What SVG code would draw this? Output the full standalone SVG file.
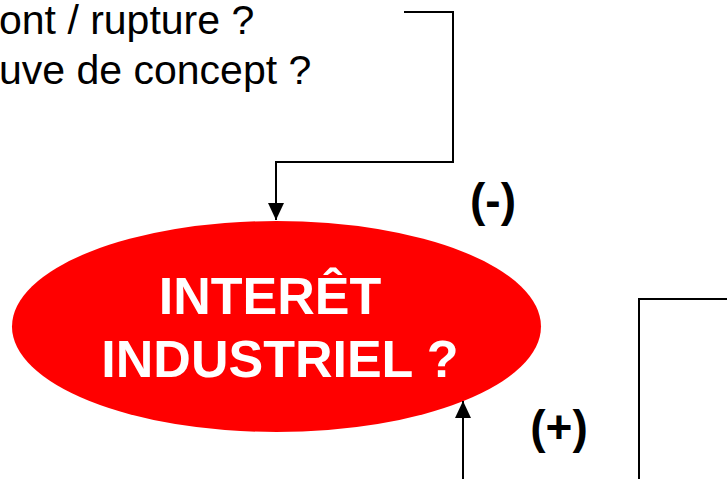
<svg xmlns="http://www.w3.org/2000/svg" width="727" height="479" viewBox="0 0 727 479">
  <style>
    .plain { font-family: "Liberation Sans", Arial, sans-serif; fill: #000; font-size: 41px; }
    .sign { font-family: "Liberation Sans", Arial, sans-serif; font-weight: bold; fill: #000; font-size: 46px; text-anchor: middle; }
    .title { font-family: "Liberation Sans", Arial, sans-serif; font-weight: bold; fill: #fff; font-size: 52px; text-anchor: middle; }
    .wire { fill: none; stroke: #000; stroke-width: 2; }
  </style>
  <defs>
    <marker id="arrow" markerUnits="userSpaceOnUse" markerWidth="17" markerHeight="16" refX="17" refY="8" orient="auto">
      <path d="M0,0 L17,8 L0,16 Z" fill="#000"/>
    </marker>
  </defs>

  <!-- questions box (text only, partly outside the frame) -->
  <g id="questions">
    <text class="plain" x="-1" y="34">ont / rupture ?</text>
    <text class="plain" x="-1" y="84">uve de concept ?</text>
  </g>

  <!-- box on the right, partly outside the frame -->
  <g id="right-box">
    <rect x="639" y="299" width="200" height="300" fill="none" stroke="#000" stroke-width="2"/>
  </g>

  <!-- central decision ellipse -->
  <g id="interet-industriel">
    <ellipse cx="276.5" cy="326.5" rx="264.5" ry="105.5" fill="#ff0000"/>
    <text class="title" x="270" y="314">INTERÊT</text>
    <text class="title" x="280" y="377">INDUSTRIEL ?</text>
  </g>

  <!-- connectors -->
  <g id="connectors">
    <path class="wire" d="M404,12 H453 V162 H276 V220" marker-end="url(#arrow)"/>
    <path class="wire" d="M463,480 V401" marker-end="url(#arrow)"/>
  </g>

  <!-- connector labels -->
  <g id="labels">
    <text class="sign" x="493" y="216">(-)</text>
    <text class="sign" x="559" y="443">(+)</text>
  </g>
</svg>
